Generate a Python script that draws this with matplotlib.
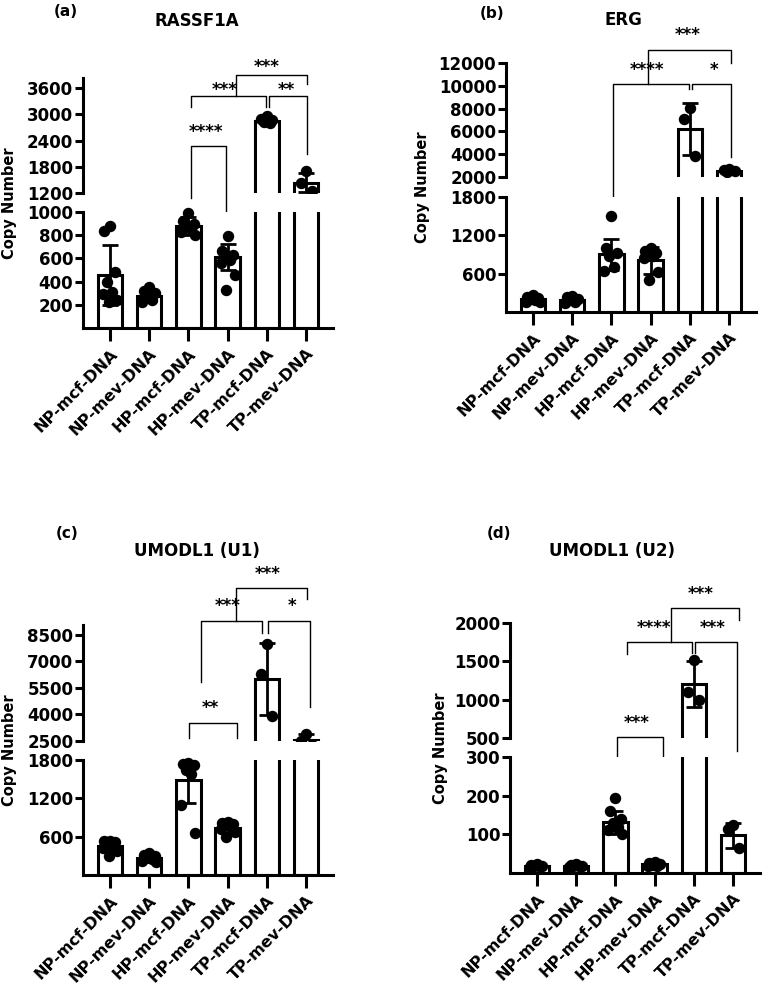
import matplotlib.pyplot as plt
import numpy as np

plt.rcParams['font.family'] = 'DejaVu Sans'
plt.rcParams['font.weight'] = 'bold'

groups = ['NP-mcf-DNA', 'NP-mev-DNA', 'HP-mcf-DNA', 'HP-mev-DNA', 'TP-mcf-DNA', 'TP-mev-DNA']

# (a) RASSF1A
a_mean = [455, 280, 880, 610, 2850, 1440]
a_sd = [260, 50, 80, 110, 60, 220]
a_pts = [[880, 840, 480, 400, 310, 290, 240, 220],
         [350, 320, 300, 270, 240, 220],
         [990, 920, 900, 880, 860, 830, 800],
         [790, 660, 630, 610, 590, 560, 460, 330],
         [2950, 2900, 2870, 2830, 2800],
         [1700, 1430, 1250]]

# (b) ERG
b_mean = [200, 190, 900, 810, 6200, 2550]
b_sd = [30, 30, 250, 210, 2300, 120]
b_pts = [[260, 240, 220, 200, 180, 160, 150],
         [250, 230, 200, 180, 160, 140],
         [1500, 1000, 920, 880, 700, 640],
         [1000, 960, 930, 900, 880, 850, 620, 500],
         [8050, 7100, 3800],
         [2700, 2600, 2500, 2450]]

# (c) UMODL1 (U1)
c_mean = [450, 260, 1480, 740, 6000, 2550]
c_sd = [80, 60, 350, 80, 2050, 330]
c_pts = [[540, 530, 520, 500, 470, 420, 380, 300],
         [350, 320, 300, 280, 250, 220, 200],
         [1760, 1740, 1720, 1640, 1580, 1100, 650],
         [830, 810, 800, 780, 760, 720, 680, 600],
         [8000, 6300, 3900],
         [2900, 2500, 2250]]

# (d) UMODL1 (U2)
d_mean = [18, 18, 131, 22, 1210, 97]
d_sd = [3, 3, 30, 3, 300, 33]
d_pts = [[22, 20, 19, 18, 17, 16],
         [22, 20, 19, 18, 17, 16],
         [195, 160, 140, 130, 120, 110, 100],
         [28, 25, 22, 20, 19, 18],
         [1520, 1100, 1000],
         [125, 115, 65]]

# significance brackets: x1, x2, bar y, leg1 end, leg2 end, label, label x, label y
a_br = [(2.06, 2.95, 2274, 1086, 743, '****', 2.45, 2594),
        (2.08, 3.97, 3417, 3166, 3166, '***', 2.92, 3554),
        (4.05, 5.02, 3417, 3166, 2091, '**', 4.5, 3554),
        (3.2, 5.02, 3897, 3417, 3692, '***', 4.0, 4080)]
b_br = [(2.04, 3.98, 10160, -17, 9720, '****', 2.9, 11380),
        (4.06, 5.05, 10160, 9720, 3754, '*', 4.6, 11380),
        (2.93, 5.05, 13140, 10160, 12000, '***', 3.95, 14450)]
c_br = [(2.01, 3.23, 3519, 2670, 2670, '**', 2.57, 4368),
        (2.32, 3.87, 9292, 5839, 8613, '***', 3.0, 10141),
        (4.02, 5.09, 9292, 8613, 4424, '*', 4.63, 10141),
        (3.2, 5.01, 11160, 9292, 10537, '***', 4.02, 11952)]
d_br = [(2.03, 3.2, 513, -48, -543, '***', 2.54, 696),
        (2.29, 3.94, 1752, 1595, 1608, '****', 2.98, 1934),
        (4.02, 5.09, 1752, 1608, 330, '***', 4.48, 1934),
        (3.41, 5.14, 2195, 1752, 2039, '***', 4.17, 2378)]

W, H = 767, 988
fig = plt.figure(figsize=(W / 100, H / 100), dpi=100)


def box(l, t, r, b):
    return [l / W, 1 - b / H, (r - l) / W, (b - t) / H]


def jitter(n):
    base = [0, -0.14, 0.14, -0.07, 0.07, -0.18, 0.18, -0.03, 0.03]
    return np.array(base[:n])


def panel(left, up, lo, ylim_up, ylim_lo, ticks_up, ticks_lo,
          means, sds, pts, brackets, letter, title, letter_xy, title_xy, ylab_xy):
    x = np.arange(len(groups))
    ax_up = fig.add_axes(box(left, up[0], left + 250, up[1]))
    ax_lo = fig.add_axes(box(left, lo[0], left + 250, lo[1]))
    for ax in (ax_up, ax_lo):
        ax.bar(x, means, width=0.62, color='white', edgecolor='black', linewidth=2.2, zorder=2)
        ax.errorbar(x, means, yerr=sds, fmt='none', ecolor='black', elinewidth=2,
                    capsize=6, capthick=2, zorder=3)
        ax.set_xlim(-0.68, 5.68)
        for s in ['top', 'right']:
            ax.spines[s].set_visible(False)
        ax.spines['left'].set_linewidth(2.2)
        ax.spines['bottom'].set_linewidth(2.2)
        ax.tick_params(axis='y', length=6, width=2.2, pad=1, labelsize=12)
    ax_up.set_ylim(*ylim_up)
    ax_lo.set_ylim(*ylim_lo)
    ax_up.set_yticks(ticks_up)
    ax_lo.set_yticks(ticks_lo)
    ax_up.spines['bottom'].set_visible(False)
    ax_up.set_xticks([])
    ax_lo.set_xticks(x)
    ax_lo.set_xticklabels(groups, rotation=45, ha='right', va='top',
                          rotation_mode='anchor', fontsize=11.5)
    ax_lo.tick_params(axis='x', length=9, width=2.2, pad=4)

    for i, vals in enumerate(pts):
        vals = np.array(vals)
        xs = i + jitter(len(vals))
        hi = vals > ylim_lo[1]
        ax_up.scatter(xs[hi], vals[hi], s=52, color='black', zorder=4)
        ax_lo.scatter(xs[~hi], vals[~hi], s=52, color='black', zorder=4, clip_on=False)

    for x1, x2, yh, y1, y2, txt, tx, ty in brackets:
        ax_up.plot([x1, x1, x2, x2], [y1, yh, yh, y2], color='black', lw=1, clip_on=False)
        ax_up.text(tx, ty, txt, ha='center', va='center', fontsize=12, clip_on=False)

    fig.text(letter_xy[0] / W, 1 - letter_xy[1] / H, letter, ha='center', va='center', fontsize=11)
    fig.text(title_xy[0] / W, 1 - title_xy[1] / H, title, ha='center', va='center', fontsize=12)
    fig.text(ylab_xy[0] / W, 1 - ylab_xy[1] / H, 'Copy Number', ha='center', va='center',
             rotation=90, fontsize=10.5)


panel(83, (78, 193), (212, 328), (1200, 3829), (0, 1000),
      [1200, 1800, 2400, 3000, 3600], [200, 400, 600, 800, 1000],
      a_mean, a_sd, a_pts, a_br, '(a)', 'RASSF1A', (66, 12), (197, 21), (10, 203))
panel(506, (63, 177), (197, 312), (2000, 12000), (0, 1800),
      [2000, 4000, 6000, 8000, 10000, 12000], [600, 1200, 1800],
      b_mean, b_sd, b_pts, b_br, '(b)', 'ERG', (492, 13), (623, 20), (423, 187))
panel(83, (625, 741), (760, 875), (2500, 9066), (0, 1800),
      [2500, 4000, 5500, 7000, 8500], [600, 1200, 1800],
      c_mean, c_sd, c_pts, c_br, '(c)', 'UMODL1 (U1)', (67, 533), (197, 551), (10, 750))
panel(510, (623, 738), (757, 873), (500, 2000), (0, 300),
      [500, 1000, 1500, 2000], [100, 200, 300],
      d_mean, d_sd, d_pts, d_br, '(d)', 'UMODL1 (U2)', (499, 533), (612, 551), (440, 748))

fig.savefig('out.png', dpi=100)
